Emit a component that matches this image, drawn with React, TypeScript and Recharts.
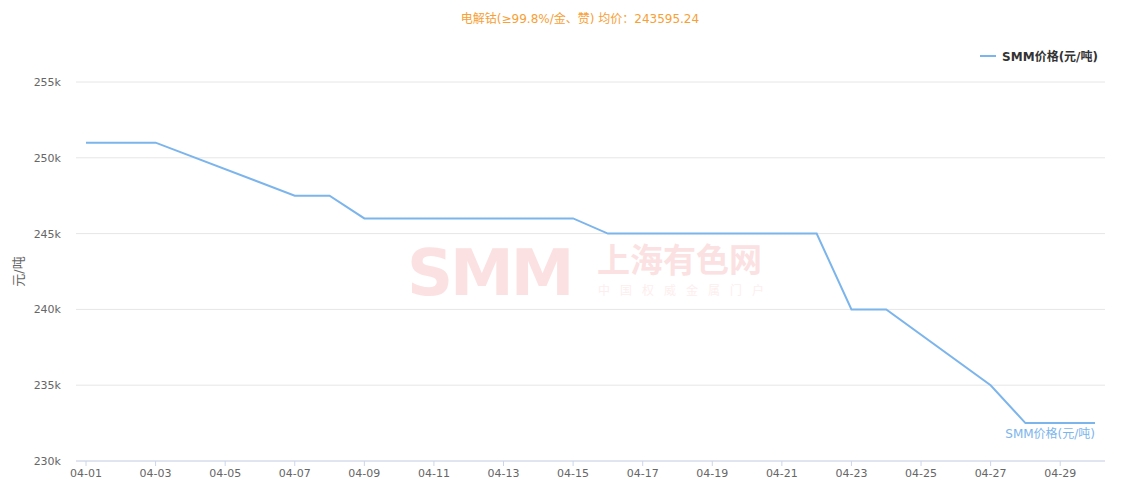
import { CartesianGrid, Label, Line, LineChart, XAxis, YAxis } from "recharts";

const dates = [
  "04-01", "04-02", "04-03", "04-07", "04-08", "04-09", "04-10", "04-11", "04-14", "04-15",
  "04-16", "04-17", "04-18", "04-21", "04-22", "04-23", "04-24", "04-27", "04-28", "04-29", "04-30",
];
const prices = [
  251000, 251000, 251000, 247500, 247500, 246000, 246000, 246000, 246000, 246000,
  245000, 245000, 245000, 245000, 245000, 240000, 240000, 235000, 232500, 232500, 232500,
];
const xTicks = ["04-01", "04-03", "04-05", "04-07", "04-09", "04-11", "04-13", "04-15", "04-17", "04-19", "04-21", "04-23", "04-25", "04-27", "04-29"];
const yTicks = [230000, 235000, 240000, 245000, 250000, 255000];

const seriesName = "SMM价格(元/吨)";
const title = "电解钴(≥99.8%/金、赞) 均价：243595.24";

const data = dates.map((d, i) => ({ day: parseInt(d.slice(3), 10), price: prices[i] }));
const font = "'DejaVu Sans', 'Noto Sans CJK SC', sans-serif";
const blue = "#7cb5ec";

function EndLabel(props: any) {
  const { x, y, index } = props;
  if (index !== data.length - 1) return null;
  return (
    <text x={x} y={y + 15} textAnchor="end" fill={blue} fontSize={12} fontFamily={font}>
      {seriesName}
    </text>
  );
}

function App() {
  return (
    <div style={{ position: "absolute", left: 0, top: 0, width: 1126, height: 487, fontFamily: font }}>
      <div style={{ position: "absolute", top: 9, left: 0, width: 1160, textAlign: "center", color: "#f7a035", fontSize: 12 }}>
        {title}
      </div>
      <div style={{ position: "absolute", left: 407, top: 241, lineHeight: 1, color: "#fbe1e1", fontSize: 64, fontWeight: 900, letterSpacing: -3, fontFamily: "'DejaVu Sans', sans-serif" }}>
        SMM
      </div>
      <div style={{ position: "absolute", left: 597, top: 244, lineHeight: "34px", color: "#fbe1e1", fontSize: 33, fontWeight: 700, fontFamily: font }}>
        上海有色网
      </div>
      <div style={{ position: "absolute", left: 598, top: 285, lineHeight: "13px", color: "#fdeeee", fontSize: 12, letterSpacing: 10, fontFamily: font }}>
        中国权威金属门户
      </div>
      <div style={{ position: "absolute", top: 47, right: 28, display: "flex", alignItems: "center", fontSize: 12, fontWeight: 700, color: "#333" }}>
        <span style={{ display: "inline-block", width: 16, height: 2, background: blue, marginRight: 6 }} />
        {seriesName}
      </div>
      <LineChart width={1126} height={487} data={data} margin={{ top: 82, right: 21, bottom: 0, left: 0 }}>
        <CartesianGrid stroke="#e6e6e6" vertical={false} />
        <XAxis
          dataKey="day"
          type="number"
          domain={[1, 30]}
          ticks={xTicks.map((t) => parseInt(t.slice(3), 10))}
          tickFormatter={(v: number) => `04-${String(v).padStart(2, "0")}`}
          padding={{ left: 10, right: 10 }}
          height={26}
          axisLine={{ stroke: "#ccd6eb" }}
          tickLine={{ stroke: "#ccd6eb" }}
          tickSize={5}
          tickMargin={3}
          tick={{ fill: "#666", fontSize: 11, fontFamily: font }}
          interval={0}
        />
        <YAxis
          domain={[230000, 255000]}
          ticks={yTicks}
          tickFormatter={(v: number) => `${v / 1000}k`}
          width={76}
          axisLine={false}
          tickLine={false}
          tickSize={0}
          tickMargin={15}
          tick={{ fill: "#666", fontSize: 11, fontFamily: font }}
        >
          <Label value="元/吨" angle={-90} position="insideLeft" offset={18} style={{ textAnchor: "middle", fill: "#666", fontSize: 13, fontFamily: font }} />
        </YAxis>
        <Line
          type="linear"
          dataKey="price"
          name={seriesName}
          stroke={blue}
          strokeWidth={2}
          dot={false}
          activeDot={false}
          label={<EndLabel />}
          isAnimationActive={false}
        />
      </LineChart>
    </div>
  );
}

export default App;
